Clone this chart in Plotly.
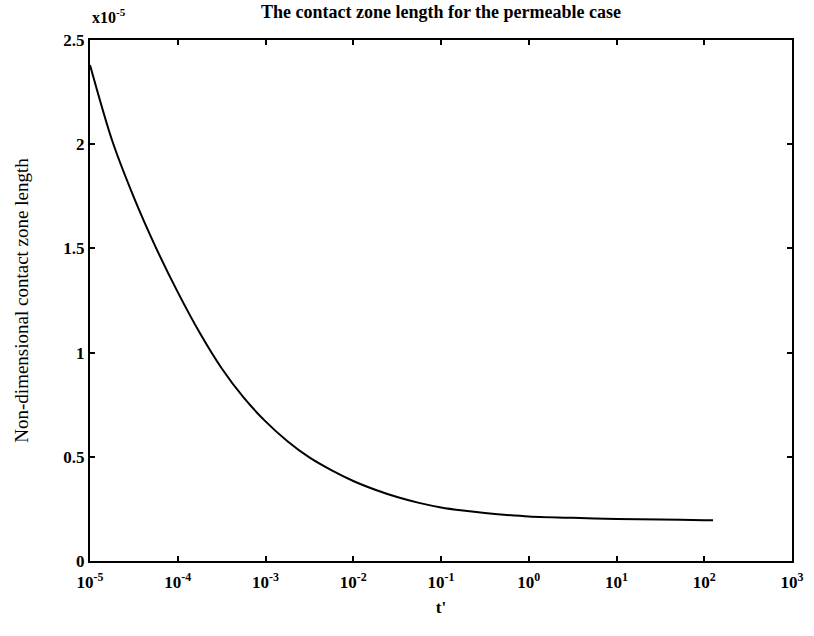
import plotly.graph_objects as go

# Dimensionless time t' and contact zone length (in units of 1e-5)
t_prime = [1.0e-5, 1.78e-5, 3.16e-5, 5.62e-5, 1.0e-4, 1.78e-4, 3.16e-4, 5.62e-4,
           1.0e-3, 1.78e-3, 3.16e-3, 5.62e-3, 1.0e-2, 1.78e-2, 3.16e-2, 5.62e-2,
           1.0e-1, 1.78e-1, 3.16e-1, 5.62e-1, 1.0, 3.16, 10.0, 31.6, 100.0, 126.0]
contact_len = [2.38, 2.02, 1.745, 1.505, 1.29, 1.095, 0.925, 0.785,
               0.67, 0.575, 0.497, 0.436, 0.384, 0.342, 0.307, 0.279,
               0.257, 0.242, 0.230, 0.221, 0.214, 0.207, 0.202, 0.199, 0.196, 0.196]

x_tickvals = [1e-5, 1e-4, 1e-3, 1e-2, 1e-1, 1e0, 1e1, 1e2, 1e3]
x_ticktext = ["10<sup>-5</sup>", "10<sup>-4</sup>", "10<sup>-3</sup>", "10<sup>-2</sup>",
              "10<sup>-1</sup>", "10<sup>0</sup>", "10<sup>1</sup>", "10<sup>2</sup>",
              "10<sup>3</sup>"]
y_tickvals = [0, 0.5, 1, 1.5, 2, 2.5]
y_ticktext = ["0", "0.5", "1", "1.5", "2", "2.5"]

FONT = "Liberation Serif, Times New Roman, serif"

fig = go.Figure()
fig.add_trace(go.Scatter(
    x=t_prime, y=contact_len, mode="lines",
    line=dict(color="black", width=2, shape="spline", smoothing=0.8),
    showlegend=False,
))

axis_common = dict(
    showline=True, linecolor="black", linewidth=2, mirror="ticks",
    ticks="inside", ticklen=5, tickwidth=1.5, tickcolor="black",
    showgrid=False, zeroline=False,
    tickfont=dict(family=FONT, size=17, color="black", weight="bold"),
)

fig.update_xaxes(
    type="log", range=[-5, 3], tickvals=x_tickvals, ticktext=x_ticktext,
    ticklabelstandoff=5,
    title=dict(text="<b>t'</b>", font=dict(family=FONT, size=17, color="black"), standoff=10),
    **axis_common,
)
fig.update_yaxes(
    range=[0, 2.5], tickvals=y_tickvals, ticktext=y_ticktext,
    title=dict(text="Non-dimensional contact zone length",
               font=dict(family=FONT, size=19, color="black"), standoff=30),
    **axis_common,
)

fig.add_annotation(
    x=0, y=1, xref="paper", yref="paper", xanchor="left", yanchor="bottom",
    yshift=12, text="<b>x10<sup>-5</sup></b>", showarrow=False,
    font=dict(family=FONT, size=16, color="black"),
)

fig.update_layout(
    width=814, height=636,
    margin=dict(l=90, r=10, t=40, b=75),
    paper_bgcolor="white", plot_bgcolor="white",
    title=dict(text="<b>The contact zone length for the permeable case</b>",
               x=0.5, xanchor="center", xref="paper", y=0.982, yanchor="middle",
               font=dict(family=FONT, size=18, color="black")),
)

fig.write_html("out.html")
